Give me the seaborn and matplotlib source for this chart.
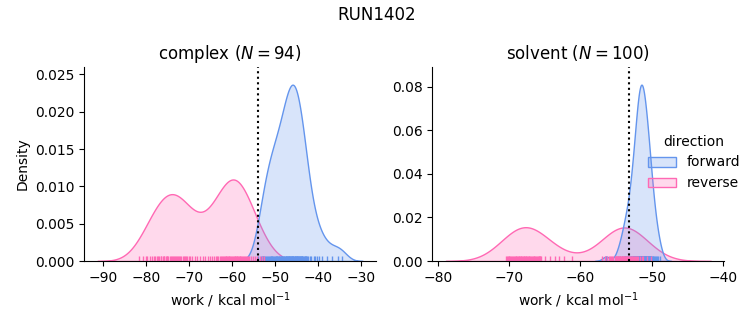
import matplotlib
matplotlib.use("Agg")
import matplotlib.pyplot as plt
import pandas as pd
import seaborn as sns

# ---- data ----
phases = ["complex", "solvent"]
directions = ["forward", "reverse"]
n_label = {"complex": 94, "solvent": 100}
free_energy = {"complex": -54.0, "solvent": -53.2}
palette = {"forward": "cornflowerblue", "reverse": "hotpink"}

complex_forward = [
    -54.0, -53.2, -53.0, -52.9, -52.7, -52.5, -52.3, -52.1, -51.9, -51.6,
    -51.4, -51.2, -51.0, -50.9, -50.8, -50.6, -50.4, -50.3, -50.1, -49.9,
    -49.7, -49.6, -49.45, -49.3, -49.15, -49.0, -48.85, -48.7, -48.55, -48.45,
    -48.3, -48.15, -48.0, -47.85, -47.7, -47.55, -47.45, -47.35, -47.25, -47.15,
    -47.05, -46.95, -46.85, -46.75, -46.65, -46.55, -46.45, -46.36, -46.27, -46.18,
    -46.09, -46.0, -45.91, -45.82, -45.73, -45.64, -45.45, -45.36, -45.27, -45.18,
    -45.09, -45.0, -44.91, -44.82, -44.73, -44.64, -44.45, -44.35, -44.25, -44.15,
    -44.05, -43.95, -43.85, -43.75, -43.65, -43.43, -43.29, -43.14, -43.0, -42.86,
    -42.71, -42.57, -42.4, -42.0, -41.6, -41.0, -40.7, -40.3, -39.8, -39.0,
    -38.0, -36.8, -35.3, -34.5,
]
complex_reverse = [
    -81.5, -80.6, -80.0, -79.7, -79.1, -78.6, -78.2, -77.8, -77.5, -77.2,
    -76.9, -76.6, -76.4, -76.1, -75.9, -75.7, -75.4, -75.2, -75.0, -74.8,
    -74.4, -74.2, -73.9, -73.7, -73.4, -73.2, -73.0, -72.8, -72.6, -72.4,
    -72.1, -71.8, -71.5, -71.2, -70.9, -70.6, -70.4, -70.1, -69.7, -69.2,
    -68.7, -68.2, -67.5, -66.8, -66.2, -65.6, -65.0, -64.6, -64.2, -63.8,
    -63.5, -63.2, -62.9, -62.6, -62.4, -62.1, -61.9, -61.7, -61.5, -61.3,
    -61.1, -60.9, -60.8, -60.6, -60.4, -60.2, -59.9, -59.75, -59.6, -59.4,
    -59.25, -59.1, -58.9, -58.75, -58.6, -58.4, -58.25, -58.1, -57.9, -57.7,
    -57.5, -57.3, -57.0, -56.8, -56.6, -56.4, -56.1, -55.7, -55.2, -54.7,
    -54.2, -53.5, -53.0, -52.5,
]
solvent_forward = [
    -56.4, -54.7, -54.4, -54.1, -53.9, -53.75, -53.7, -53.6, -53.45, -53.35,
    -53.25, -53.15, -53.05, -52.95, -52.88, -52.8, -52.73, -52.66, -52.6, -52.59,
    -52.52, -52.48, -52.43, -52.39, -52.34, -52.30, -52.25, -52.20, -52.16, -52.11,
    -52.07, -52.02, -51.99, -51.96, -51.91, -51.88, -51.86, -51.83, -51.80, -51.78,
    -51.75, -51.72, -51.70, -51.67, -51.64, -51.62, -51.59, -51.56, -51.54, -51.51,
    -51.49, -51.46, -51.44, -51.41, -51.38, -51.33, -51.30, -51.28, -51.25, -51.22,
    -51.20, -51.14, -51.12, -51.09, -51.06, -51.04, -51.01, -50.98, -50.94, -50.91,
    -50.87, -50.84, -50.80, -50.77, -50.73, -50.70, -50.66, -50.63, -50.59, -50.56,
    -50.52, -50.47, -50.41, -50.36, -50.30, -50.25, -50.2, -50.19, -50.14, -50.08,
    -50.03, -49.95, -49.85, -49.75, -49.65, -49.55, -49.42, -49.25, -49.08, -48.8,
]
solvent_reverse = [
    -70.45, -70.3, -70.2, -70.05, -69.95, -69.8, -69.7, -69.55, -69.45, -69.3,
    -69.2, -69.05, -68.95, -68.85, -68.75, -68.65, -68.55, -68.45, -68.35, -68.25,
    -68.15, -68.05, -67.95, -67.85, -67.75, -67.65, -67.55, -67.45, -67.35, -67.25,
    -67.15, -67.05, -66.95, -66.8, -66.7, -66.55, -66.45, -66.3, -66.2, -66.05,
    -65.95, -65.85, -65.75, -65.7, -65.6, -65.5, -65.0, -64.2, -63.5, -63.0,
    -62.3, -61.2, -56.9, -56.5, -56.2, -55.95, -55.8, -55.65, -55.5, -55.35,
    -55.2, -55.05, -54.96, -54.88, -54.8, -54.71, -54.63, -54.55, -54.46, -54.38,
    -54.3, -54.21, -54.13, -54.05, -53.96, -53.88, -53.8, -53.71, -53.63, -53.55,
    -53.46, -53.38, -53.3, -53.21, -53.13, -53.05, -52.95, -52.8, -52.7, -52.55,
    -52.45, -52.3, -52.2, -52.05, -51.9, -51.65, -51.4, -51.15, -50.6, -50.1,
]

works = {
    ("complex", "forward"): complex_forward,
    ("complex", "reverse"): complex_reverse,
    ("solvent", "forward"): solvent_forward,
    ("solvent", "reverse"): solvent_reverse,
}
rows = []
for (phase, direction), values in works.items():
    for v in values:
        rows.append({"phase": phase, "direction": direction, "work": v})
df = pd.DataFrame(rows)

g = sns.displot(
    data=df, x="work", hue="direction", col="phase", kind="kde",
    fill=True, rug=True, palette=palette, hue_order=directions,
    col_order=phases, facet_kws=dict(sharex=False, sharey=False),
    height=3, aspect=1.2,
)
g.set_axis_labels("work / kcal mol$^{-1}$", "Density")

for ax, phase in zip(g.axes.flat, phases):
    ax.set_title(f"{phase} ($N={n_label[phase]}$)")
    ax.axvline(free_energy[phase], color="k", ls=":")
    ax.margins(y=0.1)

fig = g.figure
fig.set_size_inches(7.53, 3.25)
fig.subplots_adjust(left=0.1116, right=0.9619, bottom=0.1969, top=0.7938, wspace=0.193)
fig.suptitle("RUN1402")
fig.savefig("out.png", dpi=100)
